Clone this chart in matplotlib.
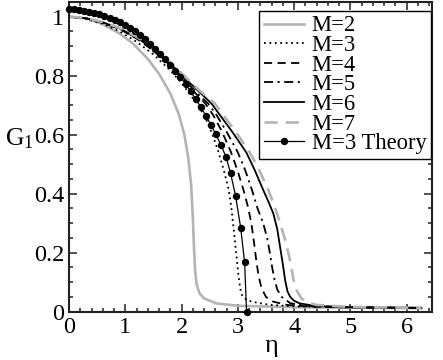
import matplotlib
matplotlib.use("Agg")
import matplotlib.pyplot as plt
from matplotlib.ticker import MultipleLocator, FuncFormatter

plt.rcParams['font.family'] = ['Liberation Serif', 'DejaVu Serif']
plt.rcParams['mathtext.fontset'] = 'custom'
plt.rcParams['mathtext.rm'] = 'Liberation Serif'
plt.rcParams['mathtext.it'] = 'Liberation Serif'

# ---- data ----
eta_m2 = [0.0, 0.3, 0.6, 0.9, 1.13, 1.4, 1.6, 1.8, 1.95, 2.05, 2.12, 2.17, 2.2, 2.22, 2.24, 2.27, 2.32, 2.4, 2.62, 3.0, 4.0, 6.26]
g_m2 = [1.0, 0.994, 0.975, 0.943, 0.91, 0.857, 0.806, 0.74, 0.67, 0.60, 0.52, 0.43, 0.32, 0.22, 0.14, 0.09, 0.062, 0.045, 0.028, 0.02, 0.015, 0.012]

eta_m3 = [0.0, 0.3, 0.6, 0.9, 1.2, 1.5, 1.8, 2.0, 2.27, 2.42, 2.55, 2.65, 2.75, 2.83, 2.88, 2.92, 2.97, 3.01, 3.04, 3.07, 3.15, 3.27, 3.57, 4.0, 5.0, 6.26]
g_m3 = [1.0, 0.993, 0.976, 0.95, 0.915, 0.872, 0.818, 0.775, 0.706, 0.66, 0.60, 0.545, 0.48, 0.42, 0.36, 0.29, 0.20, 0.125, 0.08, 0.057, 0.04, 0.033, 0.023, 0.018, 0.015, 0.013]

eta_m4 = [0.0, 0.3, 0.6, 0.9, 1.2, 1.5, 1.8, 2.0, 2.2, 2.42, 2.56, 2.72, 2.88, 3.0, 3.10, 3.18, 3.24, 3.29, 3.33, 3.37, 3.42, 3.50, 3.63, 3.87, 4.3, 5.0, 6.26]
g_m4 = [1.0, 0.995, 0.98, 0.958, 0.926, 0.885, 0.835, 0.793, 0.75, 0.706, 0.667, 0.61, 0.54, 0.475, 0.413, 0.355, 0.30, 0.23, 0.17, 0.12, 0.08, 0.05, 0.034, 0.023, 0.017, 0.014, 0.012]

eta_m5 = [0.0, 0.3, 0.6, 0.9, 1.2, 1.5, 1.8, 2.02, 2.25, 2.47, 2.62, 2.8, 3.0, 3.13, 3.25, 3.35, 3.45, 3.52, 3.57, 3.61, 3.65, 3.70, 3.78, 3.93, 4.2, 5.0, 6.26]
g_m5 = [1.0, 0.995, 0.98, 0.959, 0.928, 0.888, 0.838, 0.793, 0.745, 0.706, 0.667, 0.61, 0.54, 0.48, 0.413, 0.35, 0.30, 0.25, 0.198, 0.15, 0.11, 0.075, 0.05, 0.029, 0.02, 0.015, 0.013]

eta_m6 = [0.0, 0.3, 0.6, 0.9, 1.2, 1.5, 1.8, 2.04, 2.3, 2.53, 2.68, 2.9, 3.15, 3.3, 3.45, 3.55, 3.63, 3.70, 3.75, 3.80, 3.84, 3.88, 3.93, 4.0, 4.10, 4.40, 5.0, 6.26]
g_m6 = [1.0, 0.995, 0.981, 0.96, 0.93, 0.89, 0.841, 0.795, 0.748, 0.706, 0.667, 0.61, 0.54, 0.48, 0.413, 0.37, 0.333, 0.28, 0.22, 0.16, 0.107, 0.07, 0.05, 0.037, 0.028, 0.019, 0.015, 0.013]

eta_m7 = [0.0, 0.3, 0.6, 0.9, 1.2, 1.5, 1.8, 2.06, 2.33, 2.59, 2.74, 2.98, 3.21, 3.38, 3.54, 3.65, 3.75, 3.83, 3.90, 3.95, 3.99, 4.05, 4.13, 4.25, 4.40, 5.0, 6.26]
g_m7 = [1.0, 0.996, 0.982, 0.962, 0.932, 0.893, 0.845, 0.797, 0.748, 0.706, 0.667, 0.605, 0.54, 0.48, 0.413, 0.36, 0.30, 0.25, 0.198, 0.15, 0.107, 0.07, 0.045, 0.03, 0.023, 0.016, 0.013]

eta_th = [0.00, 0.09, 0.18, 0.27, 0.36, 0.45, 0.54, 0.63, 0.72, 0.81, 0.90, 0.99, 1.08, 1.17, 1.26, 1.35, 1.44, 1.53, 1.62, 1.71, 1.80, 1.89, 1.98, 2.07, 2.16, 2.25, 2.34, 2.43, 2.52, 2.61, 2.70, 2.79, 2.87, 2.96, 3.05, 3.12, 3.155]
g_th = [1.026, 1.025, 1.023, 1.020, 1.017, 1.013, 1.008, 1.003, 0.997, 0.990, 0.982, 0.973, 0.962, 0.950, 0.937, 0.923, 0.908, 0.892, 0.875, 0.857, 0.838, 0.817, 0.795, 0.772, 0.747, 0.721, 0.694, 0.665, 0.634, 0.601, 0.565, 0.524, 0.470, 0.392, 0.285, 0.167, 0.0]

labels = ["M=2", "M=3", "M=4", "M=5", "M=6", "M=7", "M=3 Theory"]
xticks = [0, 1, 2, 3, 4, 5, 6]
yticks = [0, 0.2, 0.4, 0.6, 0.8, 1.0]

# ---- figure ----
fig = plt.figure(figsize=(4.43, 3.6), dpi=100)
ax = fig.add_axes([0.1558, 0.1342, 0.8194, 0.8603])

gray = '#b4b4b4'
ax.plot(eta_m2, g_m2, color=gray, lw=1.9, label=labels[0])
ax.plot(eta_m3, g_m3, color='black', lw=1.3, linestyle=(0, (1, 2)), label=labels[1])
ax.plot(eta_m4, g_m4, color='black', lw=1.3, linestyle=(0, (4.5, 3)), label=labels[2])
ax.plot(eta_m5, g_m5, color='black', lw=1.3, linestyle=(0, (5, 2.5, 1.2, 2.5)), label=labels[3])
ax.plot(eta_m6, g_m6, color='black', lw=1.3, linestyle='-', label=labels[4])
ax.plot(eta_m7, g_m7, color=gray, lw=1.9, linestyle=(0, (5, 3)), label=labels[5])
ax.plot(eta_th, g_th, color='black', lw=0.9, marker='o', markersize=4.3,
        label=labels[6], clip_on=False, zorder=5)

ax.set_xlim(0, 6.45)
ax.set_ylim(0, 1.05)
ax.set_xticks(xticks)
ax.set_yticks(yticks)
ax.xaxis.set_minor_locator(MultipleLocator(0.2))
ax.yaxis.set_minor_locator(MultipleLocator(0.05))
ax.yaxis.set_major_formatter(FuncFormatter(lambda v, p: '%g' % round(v, 2)))
ax.tick_params(which='both', direction='in', top=True, right=True, labelsize=17.5,
               width=1.1, colors='#222222', labelcolor='black')
ax.tick_params(which='major', length=5.8, pad=3.5)
ax.tick_params(which='minor', length=2.9)
for s in ax.spines.values():
    s.set_linewidth(1.5)
    s.set_color('#222222')

ax.set_xlabel('η', fontsize=19)
ax.xaxis.set_label_coords(0.558, -0.075)
ax.set_ylabel('G$_1$', fontsize=18.5, rotation=0)
ax.yaxis.set_label_coords(-0.138, 0.52)

leg = ax.legend(loc='upper right', bbox_to_anchor=(0.997, 0.971), borderaxespad=0,
                fontsize=16.3, labelspacing=-0.06, handlelength=1.75, handletextpad=0.35,
                borderpad=0.2, frameon=True, fancybox=False, framealpha=1)
leg.get_frame().set_edgecolor('black')
leg.get_frame().set_linewidth(1.0)

fig.savefig('out.png', dpi=100)
